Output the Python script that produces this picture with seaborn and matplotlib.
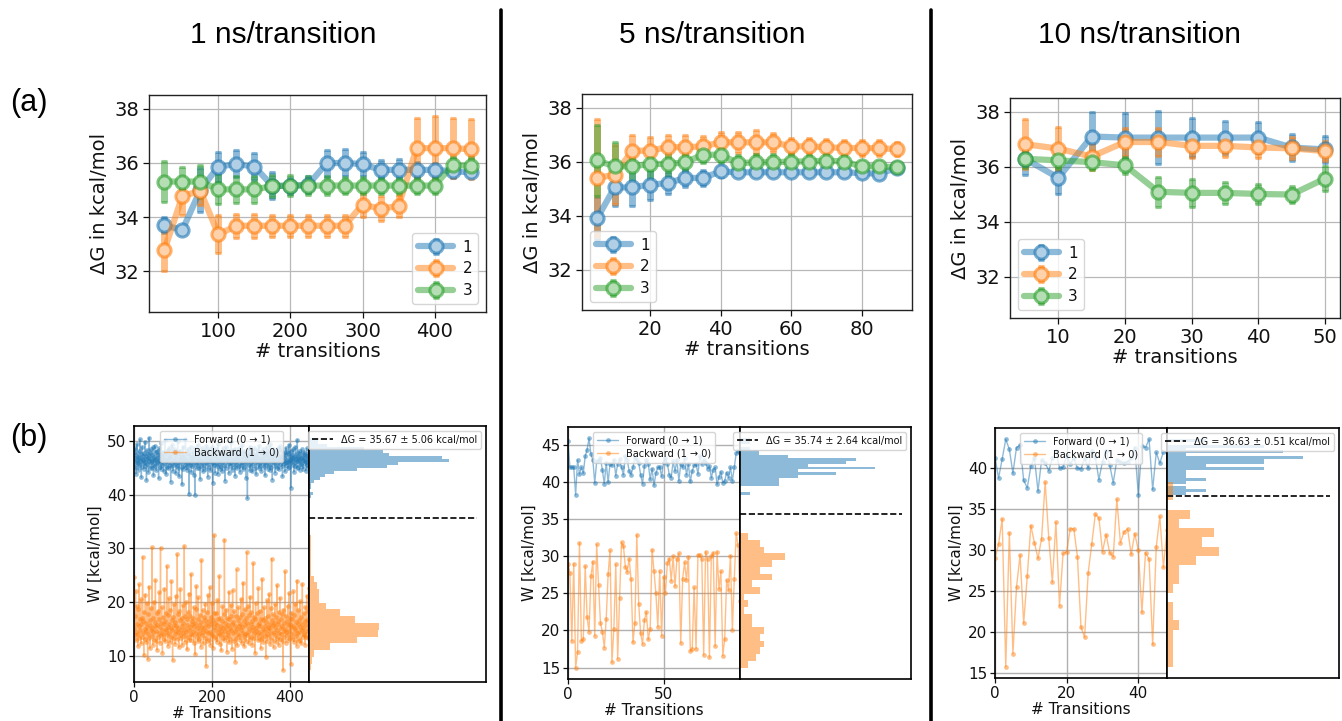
import numpy as np
import matplotlib
matplotlib.use("Agg")
import matplotlib.pyplot as plt
import seaborn as sns
from matplotlib.lines import Line2D

# ---------------- data: convergence panels (a) ----------------
a1_x = [25, 50, 75, 100, 125, 150, 175, 200, 225, 250, 275, 300, 325, 350, 375, 400, 425, 450]
a1_y1 = [33.70, 33.52, 35.00, 35.86, 35.96, 35.86, 35.15, 35.15, 35.20, 35.98, 36.00, 35.95, 35.74, 35.74, 35.74, 35.74, 35.69, 35.65]
a1_e1 = [0.30, 0.10, 0.80, 0.55, 0.50, 0.50, 0.50, 0.30, 0.30, 0.50, 0.50, 0.45, 0.35, 0.40, 0.30, 0.25, 0.25, 0.15]
a1_y2 = [32.77, 34.78, 34.96, 33.36, 33.68, 33.68, 33.68, 33.68, 33.68, 33.68, 33.68, 34.46, 34.31, 34.41, 36.54, 36.54, 36.54, 36.50]
a1_e2 = [0.75, 0.70, 0.50, 0.70, 0.45, 0.45, 0.40, 0.40, 0.40, 0.40, 0.40, 0.45, 0.45, 0.40, 1.10, 1.20, 1.10, 1.10]
a1_y3 = [35.31, 35.31, 35.31, 35.02, 35.02, 35.02, 35.14, 35.16, 35.16, 35.16, 35.16, 35.16, 35.16, 35.16, 35.16, 35.16, 35.92, 35.90]
a1_e3 = [0.75, 0.55, 0.60, 0.55, 0.50, 0.50, 0.40, 0.40, 0.35, 0.35, 0.30, 0.30, 0.30, 0.30, 0.30, 0.30, 0.30, 0.30]

a2_x = [5, 10, 15, 20, 25, 30, 35, 40, 45, 50, 55, 60, 65, 70, 75, 80, 85, 90]
a2_y1 = [33.89, 35.04, 35.04, 35.14, 35.20, 35.39, 35.39, 35.63, 35.60, 35.60, 35.60, 35.60, 35.60, 35.60, 35.60, 35.57, 35.55, 35.76]
a2_e1 = [0.80, 0.70, 0.70, 0.55, 0.40, 0.35, 0.30, 0.20, 0.15, 0.15, 0.15, 0.15, 0.15, 0.15, 0.15, 0.15, 0.15, 0.15]
a2_y2 = [35.39, 35.51, 36.40, 36.40, 36.53, 36.53, 36.56, 36.71, 36.71, 36.71, 36.71, 36.56, 36.56, 36.53, 36.50, 36.50, 36.49, 36.46]
a2_e2 = [2.20, 1.10, 0.60, 0.50, 0.45, 0.45, 0.40, 0.40, 0.40, 0.45, 0.35, 0.30, 0.30, 0.30, 0.30, 0.30, 0.30, 0.25]
a2_y3 = [36.04, 35.82, 35.82, 35.91, 35.91, 35.97, 36.25, 36.25, 35.94, 35.97, 35.97, 36.00, 36.00, 36.03, 36.00, 35.82, 35.82, 35.78]
a2_e3 = [1.30, 0.90, 0.60, 0.60, 0.50, 0.40, 0.30, 0.30, 0.30, 0.30, 0.30, 0.30, 0.25, 0.25, 0.25, 0.20, 0.20, 0.20]

a3_x = [5, 10, 15, 20, 25, 30, 35, 40, 45, 50]
a3_y1 = [36.29, 35.60, 37.10, 37.06, 37.06, 37.06, 37.06, 37.06, 36.70, 36.63]
a3_e1 = [0.60, 0.60, 0.90, 0.90, 0.95, 0.70, 0.60, 0.55, 0.50, 0.50]
a3_y2 = [36.82, 36.66, 36.37, 36.90, 36.90, 36.76, 36.76, 36.70, 36.67, 36.57]
a3_e2 = [0.90, 0.80, 0.50, 0.50, 0.50, 0.45, 0.40, 0.40, 0.40, 0.35]
a3_y3 = [36.29, 36.23, 36.17, 36.05, 35.09, 35.05, 35.05, 35.01, 34.99, 35.57]
a3_e3 = [0.35, 0.30, 0.30, 0.30, 0.55, 0.50, 0.40, 0.35, 0.30, 0.45]

# ---------------- data: work values panels (b) ----------------
b1_fwd = [
    46.8, 47.9, 45.2, 48.6, 46.1, 43.9, 47.3, 46.5, 49.4, 45.8, 47.0, 44.6, 46.9, 48.1, 45.5,
    50.3, 46.2, 47.6, 45.1, 43.2, 46.7, 48.9, 47.2, 45.9, 46.4, 44.8, 47.8, 46.0, 49.8, 45.4,
    47.1, 46.6, 42.7, 48.3, 45.7, 46.9, 47.5, 44.2, 46.3, 50.6, 47.7, 45.0, 46.8, 48.4, 46.1,
    44.9, 47.4, 46.2, 48.8, 45.6, 43.6, 47.0, 46.5, 49.1, 45.3, 46.7, 47.9, 44.5, 46.0, 48.2,
    45.8, 46.9, 47.3, 43.0, 46.4, 48.6, 45.2, 47.6, 46.1, 44.7, 49.6, 46.3, 47.1, 45.5, 46.8,
    48.0, 44.3, 46.6, 47.4, 45.9, 50.1, 46.2, 43.8, 47.8, 46.5, 45.1, 48.3, 46.9, 44.9, 47.2,
    46.0, 48.7, 45.6, 47.0, 42.4, 46.7, 47.5, 45.4, 49.2, 46.3, 44.4, 47.9, 46.1, 48.5, 45.7,
    47.3, 46.8, 44.0, 48.1, 46.4, 45.3, 47.7, 49.9, 46.0, 45.0, 47.1, 43.4, 46.6, 48.2, 45.9,
    46.5, 47.6, 45.2, 41.9, 47.0, 46.2, 48.9, 44.8, 46.9, 47.4, 45.6, 46.3, 50.4, 46.7, 45.1,
    47.8, 44.6, 46.1, 48.4, 45.8, 47.2, 40.1, 46.4, 47.5, 45.5, 48.8, 46.0, 44.2, 47.0, 46.6,
    45.3, 48.1, 46.8, 43.7, 47.3, 46.1, 40.0, 48.6, 45.7, 46.9, 47.7, 44.9, 46.3, 49.3, 45.9,
    47.1, 46.4, 45.0, 48.0, 46.7, 42.9, 47.6, 46.2, 45.4, 48.7, 46.0, 47.4, 44.3, 46.8, 47.9,
    45.6, 46.5, 48.3, 44.7, 47.2, 46.1, 49.0, 45.8, 46.9, 43.3, 47.5, 46.3, 45.2, 48.5, 46.6,
    47.0, 44.5, 46.2, 47.8, 45.9, 48.9, 46.4, 42.2, 47.3, 46.0, 45.5, 48.2, 46.8, 44.1, 47.6,
    46.1, 48.4, 45.3, 47.1, 46.7, 43.9, 49.5, 46.3, 45.7, 47.9, 46.5, 44.8, 48.0, 46.9, 45.1,
    47.4, 46.0, 44.4, 48.6, 46.2, 47.7, 45.6, 46.8, 42.6, 47.2, 46.4, 48.8, 45.0, 46.6, 47.5,
    45.8, 47.0, 46.3, 44.0, 48.1, 46.9, 45.4, 47.3, 46.1, 49.7, 45.9, 44.6, 47.8, 46.5, 48.3,
    46.7, 45.2, 47.6, 46.0, 43.5, 48.5, 46.8, 45.7, 47.1, 46.2, 44.9, 48.0, 46.4, 47.4, 45.3,
    48.7, 46.6, 44.2, 47.9, 46.1, 45.5, 47.2, 49.2, 46.0, 44.7, 47.7, 46.9, 45.1, 48.2, 46.3,
    47.0, 45.8, 46.5, 43.1, 47.5, 46.8, 39.3, 48.4, 46.2, 45.6, 47.3, 46.7, 44.5, 48.9, 46.0,
    45.4, 47.8, 46.3, 48.1, 44.3, 46.9, 47.1, 45.9, 46.4, 48.6, 45.0, 47.4, 46.6, 43.8, 47.6,
    46.2, 48.3, 45.7, 47.0, 46.8, 44.9, 49.1, 46.1, 45.3, 47.9, 46.5, 48.0, 44.4, 46.7, 47.2,
    45.9, 46.4, 48.5, 45.1, 47.3, 46.0, 43.6, 47.7, 46.9, 45.5, 48.8, 46.3, 47.5, 44.8, 46.6,
    48.2, 45.6, 47.1, 46.2, 44.6, 49.4, 46.8, 45.2, 47.6, 46.5, 42.8, 48.4, 46.1, 47.0, 45.8,
    46.9, 47.8, 44.1, 46.3, 48.1, 45.4, 47.4, 46.7, 45.0, 48.6, 46.0, 47.2, 44.7, 46.4, 49.0,
    45.7, 47.0, 46.6, 48.3, 45.3, 46.9, 43.4, 47.5, 46.2, 45.9, 48.0, 46.8, 44.3, 47.3, 46.1,
    48.7, 45.5, 46.5, 47.9, 44.9, 46.0, 47.7, 45.1, 49.3, 46.4, 47.1, 45.8, 48.2, 41.3, 46.7,
    47.4, 46.3, 45.6, 48.5, 46.9, 44.2, 47.0, 46.1, 45.4, 48.9, 46.6, 47.6, 45.0, 46.2, 50.2,
    46.8, 45.2, 47.2, 46.5, 48.1, 44.6, 46.0, 47.8, 45.7, 46.9, 48.4, 45.3, 47.0, 46.4, 44.8,
    47.5, 46.7, 48.0, 45.9, 46.3, 47.3, 44.4, 46.1, 48.6, 45.6, 47.1, 46.8, 45.1, 47.7, 46.5]
b1_bwd = [
    15.2, 24.6, 13.8, 17.4, 22.1, 14.5, 12.9, 19.3, 16.0, 14.1, 11.8, 18.7, 15.6, 23.3, 13.4,
    16.8, 14.9, 20.5, 12.3, 15.9, 17.1, 13.6, 28.4, 14.3, 16.4, 10.1, 18.2, 15.0, 13.1, 21.4,
    14.7, 16.2, 12.6, 19.8, 15.4, 9.4, 17.7, 14.0, 22.9, 13.3, 15.8, 11.4, 16.6, 14.8, 18.9,
    13.7, 30.2, 15.1, 12.1, 17.0, 14.4, 20.1, 13.0, 16.3, 15.5, 24.1, 12.8, 14.6, 17.9, 11.1,
    15.7, 13.5, 18.4, 14.2, 16.9, 21.8, 12.4, 15.3, 30.1, 13.9, 16.1, 19.0, 14.9, 10.6, 17.3,
    14.1, 15.9, 13.2, 22.5, 16.5, 12.7, 18.0, 14.6, 15.0, 26.7, 13.8, 17.6, 11.9, 15.4, 20.7,
    16.0, 14.3, 12.5, 18.6, 15.2, 13.6, 23.9, 14.8, 16.7, 9.2, 17.2, 13.4, 15.8, 19.6, 14.0,
    12.2, 16.3, 21.1, 14.7, 15.6, 13.1, 28.9, 17.8, 14.4, 15.1, 11.6, 18.3, 13.9, 16.6, 22.4,
    14.9, 13.3, 17.1, 15.5, 12.0, 19.4, 14.2, 16.2, 13.7, 30.4, 15.0, 12.6, 17.5, 14.5, 20.0,
    15.7, 11.2, 16.8, 13.5, 18.1, 14.8, 21.6, 12.9, 15.3, 17.4, 14.1, 25.2, 13.0, 16.4, 15.9,
    13.8, 17.0, 14.6, 19.1, 12.4, 15.6, 16.1, 10.3, 18.8, 14.3, 23.0, 15.2, 13.6, 16.9, 12.7,
    20.9, 14.0, 15.8, 13.2, 17.6, 14.9, 11.7, 16.3, 27.8, 13.9, 15.4, 18.5, 14.4, 12.3, 17.2,
    15.1, 16.7, 13.4, 19.7, 14.7, 8.1, 16.0, 12.8, 18.2, 15.5, 21.3, 14.2, 16.5, 13.0, 22.8,
    14.5, 12.1, 17.3, 15.9, 13.7, 19.9, 14.1, 16.6, 11.5, 17.9, 32.5, 15.3, 13.5, 16.2, 14.8,
    18.0, 13.1, 15.7, 12.6, 20.4, 14.3, 16.9, 13.8, 15.0, 24.8, 12.2, 17.1, 14.6, 15.6, 11.0,
    16.4, 14.0, 19.2, 13.3, 15.2, 17.7, 12.9, 31.6, 14.7, 16.1, 13.6, 18.6, 15.4, 10.8, 17.0,
    13.9, 15.8, 14.4, 21.9, 12.5, 16.8, 15.1, 13.2, 19.5, 14.9, 17.4, 11.3, 15.9, 22.2, 14.2,
    16.3, 12.8, 18.3, 14.6, 15.5, 8.9, 17.5, 13.4, 26.1, 15.0, 12.0, 16.7, 14.1, 19.0, 13.7,
    15.6, 17.2, 13.0, 16.0, 14.8, 20.6, 12.4, 15.3, 17.8, 14.3, 23.6, 13.5, 16.4, 11.8, 18.7,
    14.0, 15.7, 12.7, 17.0, 29.3, 13.8, 16.2, 14.5, 19.3, 12.3, 15.1, 17.6, 13.1, 21.0, 15.9,
    13.6, 18.1, 14.9, 16.5, 12.1, 15.4, 27.2, 14.2, 17.3, 13.3, 16.8, 10.5, 19.8, 14.7, 15.2,
    17.9, 13.9, 15.8, 12.9, 22.6, 14.4, 16.1, 13.2, 18.4, 15.5, 11.4, 16.9, 14.0, 24.3, 13.4,
    15.0, 16.6, 12.6, 19.0, 14.6, 17.1, 13.7, 15.6, 9.8, 16.3, 14.1, 20.3, 12.8, 17.5, 15.3,
    14.8, 21.5, 13.5, 16.0, 15.1, 12.2, 18.9, 14.3, 28.1, 16.7, 13.0, 15.7, 17.7, 11.6, 14.5,
    16.2, 13.8, 19.6, 15.4, 12.5, 17.3, 14.9, 23.2, 13.3, 16.4, 15.9, 12.0, 18.2, 14.2, 20.8,
    13.1, 15.2, 16.9, 14.0, 17.8, 12.7, 15.5, 7.3, 18.6, 14.6, 16.1, 13.6, 25.7, 15.0, 12.4,
    17.4, 14.4, 16.5, 13.9, 19.3, 15.8, 12.9, 21.7, 14.7, 16.0, 13.4, 17.0, 8.4, 15.3, 18.0,
    14.1, 16.8, 13.2, 15.6, 22.0, 12.6, 17.6, 14.8, 15.1, 19.7, 13.7, 16.3, 11.9, 24.0, 14.3,
    15.9, 12.8, 18.5, 14.5, 16.6, 13.0, 20.2, 15.4, 17.2, 12.3, 14.9, 16.0, 23.4, 13.6, 15.2,
    13.8, 17.9, 14.2, 16.4, 12.1, 19.1, 15.7, 13.5, 21.2, 14.6, 16.7, 13.3, 18.3, 22.7, 15.0]

b2_fwd = [
    45.5, 42.0, 42.0, 42.0, 38.3, 43.0, 41.1, 42.0, 41.2, 43.5, 44.4, 45.9, 43.8, 43.0, 39.9,
    42.8, 42.9, 43.3, 41.6, 39.8, 42.6, 40.0, 42.5, 42.3, 43.0, 40.9, 42.5, 43.1, 42.0, 41.0,
    43.5, 43.0, 41.5, 41.0, 42.0, 43.4, 43.0, 42.6, 41.0, 39.8, 42.2, 43.0, 42.5, 40.4, 41.8,
    39.6, 41.2, 42.0, 42.0, 40.8, 42.7, 43.2, 42.5, 41.0, 40.6, 42.8, 41.5, 43.0, 40.2, 42.4,
    42.0, 43.2, 41.0, 42.4, 40.1, 41.5, 42.3, 42.5, 41.1, 43.5, 42.4, 43.0, 42.6, 41.8, 42.2,
    40.6, 41.7, 42.0, 39.7, 40.7, 41.4, 39.9, 40.2, 41.3, 40.6, 42.0, 40.2, 42.0, 43.9, 44.2,
    44.0]
b2_bwd = [
    29.0, 27.8, 18.6, 29.0, 15.0, 17.1, 31.8, 18.6, 18.8, 28.7, 21.8, 19.8, 27.3, 29.3, 19.3,
    31.6, 26.1, 21.0, 19.8, 17.7, 21.6, 27.6, 30.8, 15.7, 20.2, 28.9, 16.2, 24.4, 31.9, 31.4,
    28.6, 27.9, 29.7, 26.9, 18.4, 21.0, 32.9, 23.6, 19.6, 18.2, 21.4, 22.5, 18.8, 20.2, 30.9,
    28.0, 25.0, 20.5, 28.0, 19.3, 27.2, 25.1, 29.1, 29.7, 26.7, 30.0, 26.0, 29.6, 30.4, 18.3,
    27.0, 29.2, 26.8, 29.9, 17.2, 17.5, 25.8, 17.5, 30.2, 30.2, 29.6, 16.7, 30.6, 29.6, 16.4,
    30.0, 30.5, 17.9, 30.6, 25.6, 28.0, 16.6, 18.9, 26.8, 25.4, 30.1, 20.1, 26.9, 33.1, 31.5,
    24.0]

b3_fwd = [
    41.25, 38.8, 41.1, 43.5, 42.3, 39.4, 42.5, 42.8, 38.5, 37.6, 40.2, 41.25, 37.2, 41.0, 40.6,
    39.7, 41.2, 42.1, 40.0, 40.1, 41.5, 40.5, 41.2, 40.0, 39.9, 41.2, 40.0, 42.1, 41.3, 38.6,
    40.8, 42.1, 40.4, 38.2, 41.0, 40.7, 40.6, 40.8, 41.2, 42.5, 36.75, 42.7, 42.5, 43.5, 37.4,
    41.9, 40.6, 42.0, 42.0]
b3_bwd = [
    29.0, 30.75, 33.8, 15.8, 32.1, 17.4, 25.5, 29.4, 21.1, 26.8, 33.0, 30.9, 29.0, 31.4, 38.3,
    31.5, 26.1, 33.4, 23.2, 29.6, 29.8, 32.6, 32.6, 29.2, 20.6, 19.4, 27.2, 30.75, 34.4, 33.9,
    29.8, 31.9, 29.7, 29.2, 36.2, 30.9, 32.2, 32.6, 29.5, 32.0, 30.0, 22.4, 29.7, 28.9, 18.5,
    30.4, 34.1, 27.9, 32.5]

dG_vals = [35.67, 35.74, 36.63]
dG_errs = [5.06, 2.64, 0.51]
titles = ["1 ns/transition", "5 ns/transition", "10 ns/transition"]
series_labels = ["1", "2", "3"]

# ---------------- figure ----------------
W, H = 1342, 721
sns.set_style("white")
plt.rcParams['font.family'] = ['DejaVu Sans']
plt.rcParams['text.color'] = '#111111'
plt.rcParams['axes.labelcolor'] = '#111111'
plt.rcParams['xtick.color'] = '#111111'
plt.rcParams['ytick.color'] = '#111111'
fig = plt.figure(figsize=(W / 100, H / 100), dpi=100)
C = sns.color_palette("tab10")


def rect(l, t, r, b):
    return [l / W, 1 - b / H, (r - l) / W, (b - t) / H]


def light(c, f):
    return tuple(1 - f * (1 - v) for v in c)


def top_panel(box, x, ys, es, legloc):
    ax = fig.add_axes(rect(*box))
    for i, (y, e) in enumerate(zip(ys, es)):
        c = C[i]
        ax.errorbar(x, y, yerr=e, fmt='-o', color=(*c, 0.5), lw=4.5, ms=9.5, mew=2.2,
                    mfc=light(c, 0.35), mec=(*c, 0.6),
                    ecolor=(*c, 0.5), elinewidth=5, capsize=2.5, capthick=3,
                    label=series_labels[i])
    ax.set_ylim(30.5, 38.5)
    ax.set_yticks([32, 34, 36, 38])
    ax.grid(True, color='#b8b8b8', lw=0.9)
    ax.set_axisbelow(True)
    for s in ax.spines.values():
        s.set_color('#222222')
        s.set_linewidth(1.0)
    ax.tick_params(axis='both', labelsize=14, length=4, width=0.9, direction='out',
                   bottom=True, left=True, pad=3)
    ax.set_xlabel('# transitions', fontsize=14, labelpad=1)
    ax.set_ylabel('ΔG in kcal/mol', fontsize=14, labelpad=4)
    ax.legend(loc=legloc, fontsize=11, handlelength=2.3, borderpad=0.4,
              labelspacing=0.45, handletextpad=0.6)
    return ax


top_panel((149, 95, 486, 312), a1_x, [a1_y1, a1_y2, a1_y3], [a1_e1, a1_e2, a1_e3], 'lower right')
top_panel((582, 94, 912, 310), a2_x, [a2_y1, a2_y2, a2_y3], [a2_e1, a2_e2, a2_e3], 'lower left')
top_panel((1010, 98, 1340, 318), a3_x, [a3_y1, a3_y2, a3_y3], [a3_e1, a3_e2, a3_e3], 'lower left')


def bottom_panel(box, fwd, bwd, dg, err, xticks):
    l, t, r, rh, b = box
    ax = fig.add_axes(rect(l, t, r, b))
    axh = fig.add_axes(rect(r, t, rh, b), sharey=ax)
    xs = np.arange(len(fwd))
    sns.lineplot(x=xs, y=fwd, ax=ax, color=C[0], marker='o', markersize=3.4,
                 markeredgewidth=0, lw=1.0, alpha=0.5, estimator=None,
                 label='Forward (0 → 1)')
    sns.lineplot(x=np.arange(len(bwd)), y=bwd, ax=ax, color=C[1], marker='o',
                 markersize=3.4, markeredgewidth=0, lw=1.0, alpha=0.5,
                 estimator=None, label='Backward (1 → 0)')
    ax.set_xlim(0, len(fwd) - 1)
    ax.set_xticks(xticks)
    ax.grid(True, color='#b0b0b0', lw=1.0)
    ax.set_axisbelow(True)
    for s in ax.spines.values():
        s.set_color('black')
        s.set_linewidth(1.2)
    ax.tick_params(axis='both', labelsize=11, length=3.5, width=0.9,
                   bottom=True, left=True, pad=2)
    ax.set_xlabel('# Transitions', fontsize=11, labelpad=1)
    ax.set_ylabel('W [kcal/mol]', fontsize=11, labelpad=3)
    ax.legend(loc='upper center', fontsize=7, handlelength=2.2,
              borderpad=0.4, labelspacing=0.3, framealpha=0.8)

    sns.histplot(y=fwd, bins=20, stat='density', color=C[0], alpha=0.5,
                 linewidth=0, ax=axh)
    sns.histplot(y=bwd, bins=20, stat='density', color=C[1], alpha=0.5,
                 linewidth=0, ax=axh)
    fmax = max(p.get_width() for p in axh.patches[:20])
    axh.set_xlim(0, fmax / 0.79)
    axh.axhline(dg, xmin=0, xmax=0.95, color='black', ls='--', lw=1.2,
                label=f'ΔG = {dg:.2f} ± {err:.2f} kcal/mol')
    axh.legend(loc='upper right', fontsize=7, handlelength=2.2,
               borderpad=0.4, framealpha=0.8)
    axh.tick_params(left=False, labelleft=False, bottom=False, labelbottom=False)
    axh.set_xlabel('')
    axh.set_ylabel('')
    axh.grid(False)
    for s in axh.spines.values():
        s.set_color('black')
        s.set_linewidth(1.2)
    return ax, axh


bottom_panel((134, 426, 309, 486, 682), b1_fwd, b1_bwd, dG_vals[0], dG_errs[0], [0, 200, 400])
bottom_panel((568, 427, 740, 911, 679), b2_fwd, b2_bwd, dG_vals[1], dG_errs[1], [0, 50])
bottom_panel((995, 428, 1167, 1339, 678), b3_fwd, b3_bwd, dG_vals[2], dG_errs[2], [0, 20, 40])

# ---------------- titles, labels, separators ----------------
for xc, ttl in zip([283, 712, 1139], titles):
    fig.text(xc / W, 1 - 35 / H, ttl, ha='center', va='center', fontsize=21.5,
             family='Liberation Sans', color='black')
fig.text(29 / W, 1 - 103 / H, '(a)', ha='center', va='center', fontsize=22,
         family='Liberation Sans', color='black')
fig.text(29 / W, 1 - 438 / H, '(b)', ha='center', va='center', fontsize=22,
         family='Liberation Sans', color='black')
for xs in [501, 931]:
    fig.add_artist(Line2D([xs / W, xs / W], [0, 1 - 10 / H], color='black', lw=2.6,
                          transform=fig.transFigure))

fig.savefig('out.png', dpi=100)
